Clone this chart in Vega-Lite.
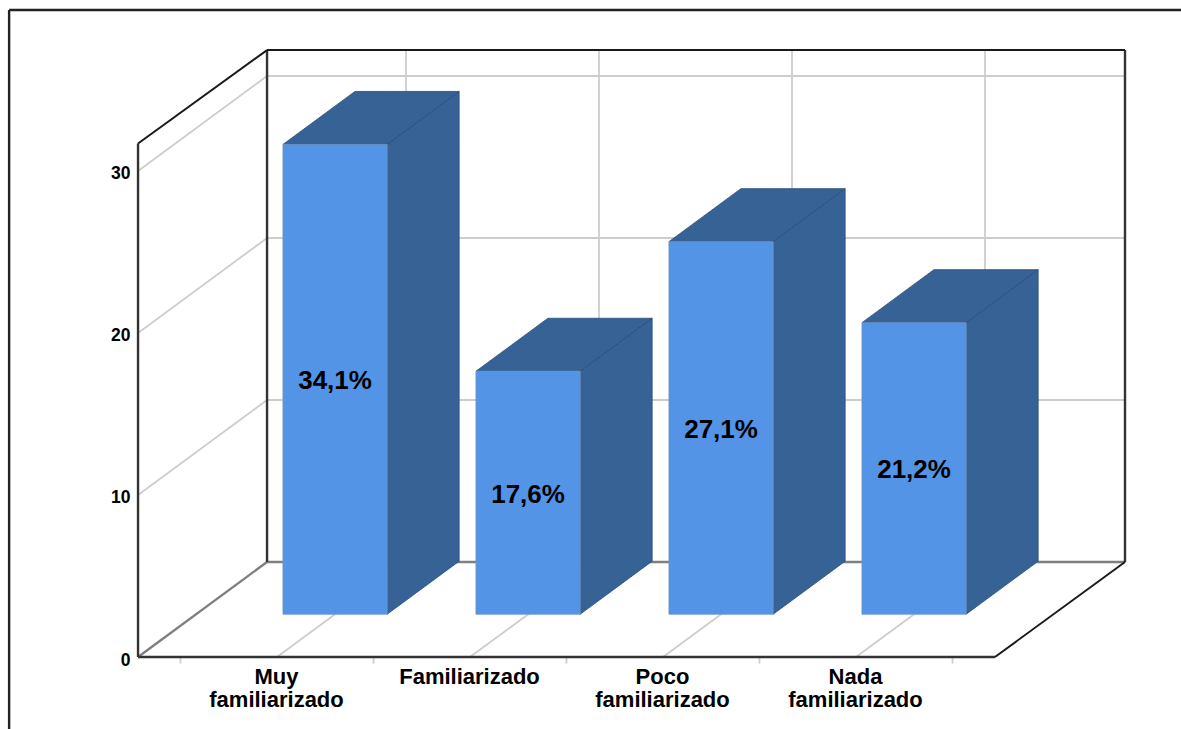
{"$schema":"https://vega.github.io/schema/vega-lite/v6.json","width":987,"height":607,"autosize":{"type":"none"},"padding":{"left":138,"top":50,"right":56,"bottom":72},"background":"white","config":{"view":{"stroke":null}},
"datasets":{
"barras":[{"categoria":"Muy familiarizado","orden":1,"n":29,"porcentaje":"34,1%"},{"categoria":"Familiarizado","orden":2,"n":15,"porcentaje":"17,6%"},{"categoria":"Poco familiarizado","orden":3,"n":23,"porcentaje":"27,1%"},{"categoria":"Nada familiarizado","orden":4,"n":18,"porcentaje":"21,2%"}],
"rejilla":[
{"c1":0.28,"v1":10,"z1":0,"c2":0.28,"v2":10,"z2":1},{"c1":0.28,"v1":20,"z1":0,"c2":0.28,"v2":20,"z2":1},{"c1":0.28,"v1":30,"z1":0,"c2":0.28,"v2":30,"z2":1},
{"c1":0.28,"v1":10,"z1":1,"c2":4.725,"v2":10,"z2":1},{"c1":0.28,"v1":20,"z1":1,"c2":4.725,"v2":20,"z2":1},{"c1":0.28,"v1":30,"z1":1,"c2":4.725,"v2":30,"z2":1},
{"c1":1,"v1":0,"z1":1,"c2":1,"v2":31.6,"z2":1},{"c1":2,"v1":0,"z1":1,"c2":2,"v2":31.6,"z2":1},{"c1":3,"v1":0,"z1":1,"c2":3,"v2":31.6,"z2":1},{"c1":4,"v1":0,"z1":1,"c2":4,"v2":31.6,"z2":1},
{"c1":1,"v1":0,"z1":0,"c2":1,"v2":0,"z2":1},{"c1":2,"v1":0,"z1":0,"c2":2,"v2":0,"z2":1},{"c1":3,"v1":0,"z1":0,"c2":3,"v2":0,"z2":1},{"c1":4,"v1":0,"z1":0,"c2":4,"v2":0,"z2":1},
{"c1":0.5,"v1":0,"z1":0,"c2":0.5,"v2":-0.4,"z2":0},{"c1":1.5,"v1":0,"z1":0,"c2":1.5,"v2":-0.4,"z2":0},{"c1":2.5,"v1":0,"z1":0,"c2":2.5,"v2":-0.4,"z2":0},{"c1":3.5,"v1":0,"z1":0,"c2":3.5,"v2":-0.4,"z2":0},{"c1":4.5,"v1":0,"z1":0,"c2":4.5,"v2":-0.4,"z2":0}],
"suelo":[{"c1":0.28,"v1":0,"z1":0,"c2":0.28,"v2":0,"z2":1},{"c1":0.28,"v1":0,"z1":1,"c2":4.7254,"v2":0,"z2":1}],
"pared":[{"c1":0.28,"v1":0,"z1":1,"c2":0.28,"v2":31.6,"z2":1},{"c1":4.7254,"v1":0,"z1":1,"c2":4.7254,"v2":31.6,"z2":1},{"c1":0.28,"v1":0,"z1":0,"c2":0.28,"v2":31.7,"z2":0},{"c1":0.28,"v1":0,"z1":0,"c2":4.72,"v2":0,"z2":0}],
"borde":[{"c1":0.28,"v1":31.6,"z1":1,"c2":4.7254,"v2":31.6,"z2":1},{"c1":0.28,"v1":31.7,"z1":0,"c2":0.28,"v2":31.6,"z2":1},{"c1":4.72,"v1":0,"z1":0,"c2":4.7254,"v2":0,"z2":1}],
"marco":[{"c1":-0.388,"v1":39.94,"z1":0,"c2":5.7,"v2":39.94,"z2":0},{"c1":-0.388,"v1":39.94,"z1":0,"c2":-0.388,"v2":-4.44,"z2":0}]
},
"encoding":{
"x":{"field":"px","type":"quantitative","title":null,"scale":{"domain":[0.27979,5.39378],"nice":false,"zero":false},"axis":{"values":[1,2,3,4],"ticks":false,"domain":false,"grid":false,"labelExpr":"datum.value==1?['Muy','familiarizado']:datum.value==2?'Familiarizado':datum.value==3?['Poco','familiarizado']:['Nada','familiarizado']","labelFont":"Liberation Sans","labelFontWeight":"bold","labelFontSize":22,"labelLineHeight":23,"labelColor":"#000","labelPadding":9,"labelOffset":-1,"labelBaseline":"top","labelFlush":false,"labelOverlap":false}},
"y":{"field":"py","type":"quantitative","title":null,"scale":{"domain":[0,37.469],"nice":false,"zero":false},"axis":{"values":[0,10,20,30],"ticks":false,"domain":false,"grid":false,"labelFont":"Liberation Sans","labelFontWeight":"bold","labelFontSize":17.5,"labelColor":"#000","labelPadding":8,"labelOffset":3,"labelFlush":false,"labelOverlap":false}}
},
"layer":[
{"data":{"name":"rejilla"},"transform":[{"calculate":"datum.c1+datum.z1*0.6684","as":"px"},{"calculate":"datum.v1+datum.z1*5.864","as":"py"},{"calculate":"datum.c2+datum.z2*0.6684","as":"px2"},{"calculate":"datum.v2+datum.z2*5.864","as":"py2"}],
"mark":{"type":"rule","color":"#cdcdcd","strokeWidth":1.8},"encoding":{"x2":{"field":"px2"},"y2":{"field":"py2"}}},
{"data":{"name":"suelo"},"transform":[{"calculate":"datum.c1+datum.z1*0.6684","as":"px"},{"calculate":"datum.v1+datum.z1*5.864","as":"py"},{"calculate":"datum.c2+datum.z2*0.6684","as":"px2"},{"calculate":"datum.v2+datum.z2*5.864","as":"py2"}],
"mark":{"type":"rule","color":"#7f7f7f","strokeWidth":2.4},"encoding":{"x2":{"field":"px2"},"y2":{"field":"py2"}}},
{"data":{"name":"pared"},"transform":[{"calculate":"datum.c1+datum.z1*0.6684","as":"px"},{"calculate":"datum.v1+datum.z1*5.864","as":"py"},{"calculate":"datum.c2+datum.z2*0.6684","as":"px2"},{"calculate":"datum.v2+datum.z2*5.864","as":"py2"}],
"mark":{"type":"rule","color":"#333333","strokeWidth":2.4},"encoding":{"x2":{"field":"px2"},"y2":{"field":"py2"}}},
{"data":{"name":"borde"},"transform":[{"calculate":"datum.c1+datum.z1*0.6684","as":"px"},{"calculate":"datum.v1+datum.z1*5.864","as":"py"},{"calculate":"datum.c2+datum.z2*0.6684","as":"px2"},{"calculate":"datum.v2+datum.z2*5.864","as":"py2"}],
"mark":{"type":"rule","color":"#1a1a1a","strokeWidth":2},"encoding":{"x2":{"field":"px2"},"y2":{"field":"py2"}}},
{"data":{"name":"marco"},"transform":[{"calculate":"datum.c1+datum.z1*0.6684","as":"px"},{"calculate":"datum.v1+datum.z1*5.864","as":"py"},{"calculate":"datum.c2+datum.z2*0.6684","as":"px2"},{"calculate":"datum.v2+datum.z2*5.864","as":"py2"}],
"mark":{"type":"rule","color":"#222222","strokeWidth":2.4},"encoding":{"x2":{"field":"px2"},"y2":{"field":"py2"}}},
{"data":{"name":"barras"},"transform":[{"calculate":"[0,1]","as":"s"},{"flatten":["s"]},{"calculate":"0.45+datum.s*0.558","as":"z"},{"calculate":"datum.orden+0.27+datum.z*0.6684","as":"px"},{"calculate":"datum.n+datum.z*5.864","as":"py"},{"calculate":"datum.z*5.864","as":"py2"}],
"mark":{"type":"area","color":"#366296","stroke":"#2a4a78","strokeWidth":0.8,"opacity":1},
"encoding":{"y2":{"field":"py2"},"detail":{"field":"categoria"}}},
{"data":{"name":"barras"},"transform":[{"calculate":"[0,1,2,3]","as":"s"},{"flatten":["s"]},
{"calculate":"[datum.orden-0.27+0.3008,datum.orden-0.27+0.6738,datum.orden+0.27+0.3008,datum.orden+0.27+0.6738][datum.s]","as":"px"},
{"calculate":"datum.n+[2.639,5.911,5.911,5.911][datum.s]","as":"py"},
{"calculate":"datum.n+[2.639,2.639,2.639,5.911][datum.s]","as":"py2"}],
"mark":{"type":"area","color":"#366296","stroke":"#2a4a78","strokeWidth":0.8,"opacity":1},
"encoding":{"y2":{"field":"py2"},"detail":{"field":"categoria"}}},
{"data":{"name":"barras"},"transform":[{"calculate":"datum.orden-0.27+0.3008","as":"px"},{"calculate":"datum.orden+0.27+0.3008","as":"px2"},{"calculate":"datum.n+2.639","as":"py"},{"calculate":"2.639","as":"py2"}],
"mark":{"type":"rect","color":"#5494E6","stroke":"#6f94c4","strokeWidth":0.8,"opacity":1},
"encoding":{"x2":{"field":"px2"},"y2":{"field":"py2"}}},
{"data":{"name":"barras"},"transform":[{"calculate":"datum.orden+0.3008","as":"px"},{"calculate":"datum.n/2+2.639","as":"py"}],
"mark":{"type":"text","font":"Liberation Sans","fontWeight":"bold","fontSize":26,"color":"#000","align":"center","baseline":"middle","dy":2},
"encoding":{"text":{"field":"porcentaje"}}}
]}
